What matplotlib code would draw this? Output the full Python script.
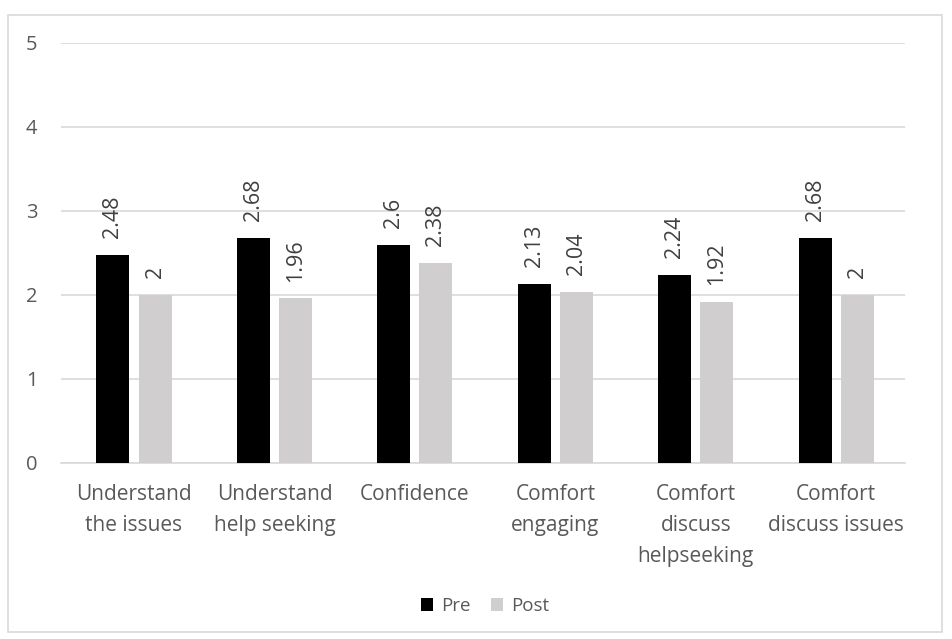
import matplotlib
matplotlib.use("Agg")
import matplotlib.pyplot as plt
import numpy as np
from matplotlib.patches import Rectangle

categories = ["Understand\nthe issues", "Understand\nhelp seeking", "Confidence",
              "Comfort\nengaging", "Comfort\ndiscuss\nhelpseeking", "Comfort\ndiscuss issues"]
pre = [2.48, 2.68, 2.6, 2.13, 2.24, 2.68]
post = [2, 1.96, 2.38, 2.04, 1.92, 2]
pre_labels = ["2.48", "2.68", "2.6", "2.13", "2.24", "2.68"]
post_labels = ["2", "1.96", "2.38", "2.04", "1.92", "2"]
yticks = [0, 1, 2, 3, 4, 5]

plt.rcParams['font.family'] = ['Open Sans', 'DejaVu Sans']

fig = plt.figure(figsize=(9.52, 6.39), dpi=100)
fig.patches.append(Rectangle((8/952, 1-632/639), 934/952, 617/639, transform=fig.transFigure,
                             fill=False, edgecolor='#D9D9D9', linewidth=1.2))
ax = fig.add_axes([61/952, 1-463/639, 844/952, 420/639])

x = np.arange(len(categories))
w = 0.235
off = 0.15
ax.bar(x - off, pre, w, color='black', label='Pre', zorder=3)
ax.bar(x + off, post, w, color='#D0CECE', label='Post', zorder=3)

for xi, v, t in zip(x, pre, pre_labels):
    ax.text(xi - off, v + 0.2, t, rotation=90, ha='center', va='bottom',
            fontsize=15.5, color='#404040')
for xi, v, t in zip(x, post, post_labels):
    ax.text(xi + off, v + 0.2, t, rotation=90, ha='center', va='bottom',
            fontsize=15.5, color='#404040')

ax.set_xlim(-0.52, 5.49)
ax.set_ylim(0, 5)
ax.set_yticks(yticks)
ax.set_yticklabels([str(t) for t in yticks], fontsize=14.5, color='#595959')
ax.set_xticks(x)
ax.set_xticklabels(categories, fontsize=15, color='#595959', linespacing=1.62)
ax.tick_params(axis='both', length=0)
ax.tick_params(axis='x', pad=15)
ax.tick_params(axis='y', pad=17)
ax.grid(axis='y', color='#D9D9D9', linewidth=1.2, zorder=0)
for s in ['top', 'right', 'left']:
    ax.spines[s].set_visible(False)
ax.spines['bottom'].set_color('#D9D9D9')
ax.spines['bottom'].set_linewidth(1.2)

leg = fig.legend(loc='center', bbox_to_anchor=(485/952, 1-606/639), ncol=2, frameon=False,
                 fontsize=13.5, handlelength=0.65, handleheight=0.65, handletextpad=0.4,
                 columnspacing=1.1, labelcolor='#595959')

fig.savefig("out.png", dpi=100)
